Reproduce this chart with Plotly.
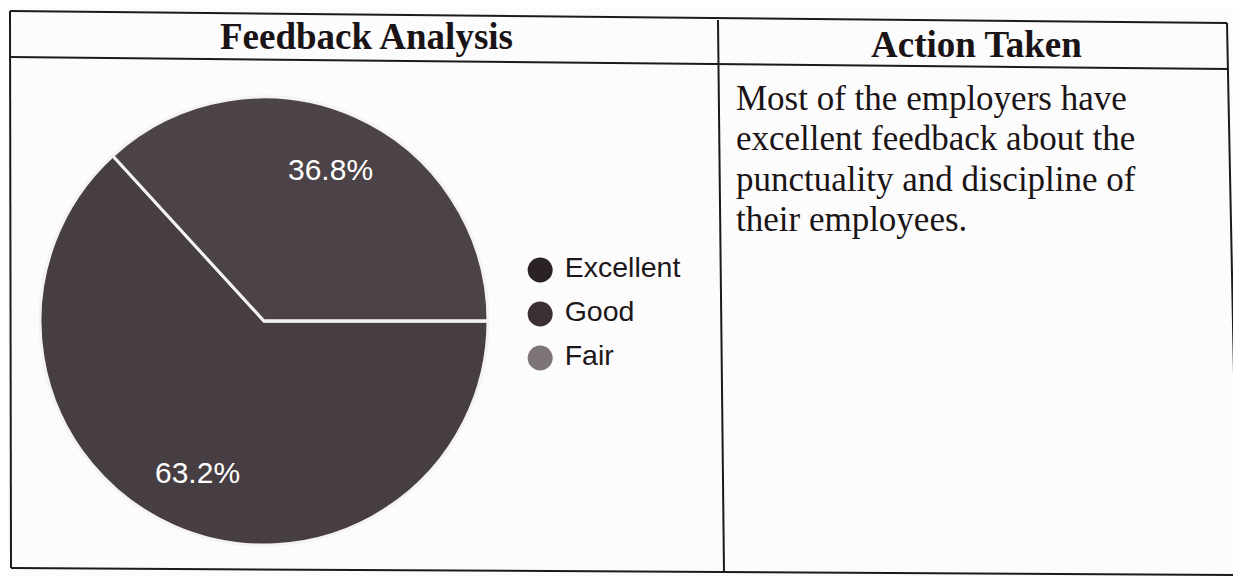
import math
import plotly.graph_objects as go

# page body has an 8px margin in the browser; the figure sits inside it
OFF = 8
W, H = 1241 - OFF, 576 - OFF

# ---- data ----
categories = ["Excellent", "Good", "Fair"]
shares = [63.2, 36.8, 0.0]
slice_colors = ["#473e44", "#4c4348", "#7a7076"]
legend_colors = ["#2a2226", "#3a3035", "#7d7479"]

header_left = "Feedback Analysis"
header_right = "Action Taken"
action_lines = [
    "Most of the employers have",
    "excellent feedback about the",
    "punctuality and discipline of",
    "their employees.",
]

def px(x):
    return (x - OFF) / W

def py(y):
    return 1 - (y - OFF) / H

fig = go.Figure()

# pie (starts at 3 o'clock, clockwise)
cx, cy, r = 264, 321, 224
start_deg = 0.0
fig.add_trace(go.Pie(
    labels=categories,
    values=shares,
    sort=False,
    direction="clockwise",
    rotation=90,
    marker=dict(colors=slice_colors, line=dict(color="#f4f2f3", width=3)),
    textinfo="none",
    showlegend=False,
    hoverinfo="label+percent",
    domain=dict(x=[px(cx - r), px(cx + r)], y=[py(cy + r), py(cy - r)]),
))

# slice percentage labels placed at each slice's mid-angle
total = sum(shares)
acc = 0.0
for v in shares:
    if v <= 0:
        continue
    mid = start_deg - 360.0 * (acc + v / 2) / total  # clockwise in standard angle
    acc += v
    lx = cx + 0.74 * r * math.cos(math.radians(mid))
    ly = cy - 0.74 * r * math.sin(math.radians(mid))
    fig.add_annotation(x=px(lx), y=py(ly), xref="paper", yref="paper",
                       text="%.1f%%" % (100 * v / total), showarrow=False,
                       xanchor="center", yanchor="middle",
                       font=dict(family="Liberation Sans, Arial", size=30, color="#ffffff"))

# legend drawn as a small categorical scatter
fig.add_trace(go.Scatter(
    x=[0] * len(categories),
    y=categories,
    mode="markers+text",
    marker=dict(symbol="circle", size=25, color=legend_colors, line=dict(width=0)),
    text=[" " + c for c in categories],
    textposition="middle right",
    textfont=dict(family="Liberation Sans, Arial", size=28.5, color="#1c1719"),
    showlegend=False,
    hoverinfo="skip",
    xaxis="x", yaxis="y",
))

fig.update_layout(
    width=W, height=H,
    margin=dict(l=0, r=0, t=0, b=0),
    paper_bgcolor="#fdfcfc",
    plot_bgcolor="rgba(0,0,0,0)",
    xaxis=dict(domain=[px(522), px(712)], range=[-0.55, 5.2], visible=False, fixedrange=True),
    yaxis=dict(domain=[py(380), py(248)], range=[2.5, -0.5], visible=False, fixedrange=True,
               type="category", categoryorder="array", categoryarray=categories),
)

# table lines (slightly skewed like the scan)
line_col = "#1e1a1c"
segments = [
    ((10, 11), (1227, 23)),    # top
    ((10, 57), (1228, 69)),    # header bottom
    ((10, 11), (11, 568)),     # left
    ((11, 568), (1238, 575)),  # bottom
    ((1227, 23), (1238, 575)), # right
    ((718, 20), (724, 573)),   # divider
]
for (x0, y0), (x1, y1) in segments:
    fig.add_shape(type="line", xref="paper", yref="paper",
                  x0=px(x0), y0=py(y0), x1=px(x1), y1=py(y1),
                  line=dict(color=line_col, width=2))

# headers
fig.add_annotation(x=px(366), y=py(37), xref="paper", yref="paper", text="<b>%s</b>" % header_left,
                   showarrow=False, xanchor="center", yanchor="middle",
                   font=dict(family="Liberation Serif, Times New Roman", size=37, color="#1a1416"))
fig.add_annotation(x=px(976), y=py(45), xref="paper", yref="paper", text="<b>%s</b>" % header_right,
                   showarrow=False, xanchor="center", yanchor="middle",
                   font=dict(family="Liberation Serif, Times New Roman", size=37, color="#1a1416"))

# action text
line_y = [99, 139, 179, 219]
for t, yy in zip(action_lines, line_y):
    fig.add_annotation(x=px(734), y=py(yy), xref="paper", yref="paper", text=t,
                       showarrow=False, xanchor="left", yanchor="middle",
                       font=dict(family="Liberation Serif, Times New Roman", size=35, color="#1a1416"))

fig.write_html("out.html")
